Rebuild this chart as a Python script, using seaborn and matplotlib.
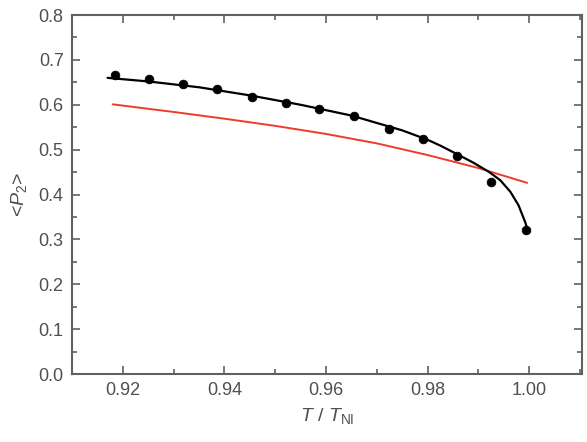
import numpy as np
import pandas as pd
import matplotlib
matplotlib.use('Agg')
import matplotlib.pyplot as plt
import seaborn as sns
from matplotlib.ticker import MultipleLocator

sns.set_style('ticks')
plt.rcParams['font.family'] = ['Liberation Sans', 'DejaVu Sans']
plt.rcParams['mathtext.fontset'] = 'custom'
plt.rcParams['mathtext.rm'] = 'Liberation Sans'
plt.rcParams['mathtext.it'] = 'Liberation Sans:italic'

# measured order parameter
t_data = [0.9184, 0.9251, 0.9319, 0.9386, 0.9454, 0.9521, 0.9587,
          0.9655, 0.9724, 0.9790, 0.9858, 0.9925, 0.9994]
p2_data = [0.667, 0.657, 0.647, 0.636, 0.618, 0.605, 0.590,
           0.575, 0.547, 0.523, 0.485, 0.427, 0.320]

# fit curve (black)
t_fit = [0.917, 0.925, 0.935, 0.945, 0.955, 0.965, 0.975, 0.980,
         0.9825, 0.9858, 0.989, 0.992, 0.9943, 0.9963, 0.9979, 0.9992, 0.9997]
p2_fit = [0.660, 0.652, 0.639, 0.621, 0.600, 0.576, 0.543, 0.522,
          0.509, 0.490, 0.471, 0.451, 0.432, 0.406, 0.376, 0.339, 0.321]

# theory curve (red)
t_th = [0.918, 0.930, 0.940, 0.950, 0.960, 0.970, 0.980, 0.990, 0.9996]
p2_th = [0.601, 0.584, 0.569, 0.553, 0.535, 0.514, 0.488, 0.459, 0.426]

fit_df = pd.DataFrame({'t': t_fit, 'p2': p2_fit})
th_df = pd.DataFrame({'t': t_th, 'p2': p2_th})
data_df = pd.DataFrame({'t': t_data, 'p2': p2_data})

fig = plt.figure(figsize=(5.87, 4.42), dpi=100)
ax = fig.add_axes([0.1227, 0.1538, 0.8688, 0.8122])

sns.lineplot(data=th_df, x='t', y='p2', ax=ax, color='#f03a2a', linewidth=1.4, sort=False)
sns.lineplot(data=fit_df, x='t', y='p2', ax=ax, color='black', linewidth=1.6, sort=False)
sns.scatterplot(data=data_df, x='t', y='p2', ax=ax, color='black', s=40, edgecolor='black', zorder=5)

ax.set_xlim(0.910, 1.0104)
ax.set_ylim(0.0, 0.8)
ax.xaxis.set_major_locator(MultipleLocator(0.02))
ax.xaxis.set_minor_locator(MultipleLocator(0.01))
ax.yaxis.set_major_locator(MultipleLocator(0.1))
ax.yaxis.set_minor_locator(MultipleLocator(0.05))
ax.set_xticks([0.92, 0.94, 0.96, 0.98, 1.00])
ax.set_xticklabels(['0.92', '0.94', '0.96', '0.98', '1.00'])
ax.set_yticks(np.arange(0, 0.81, 0.1))
ax.set_yticklabels(['%.1f' % v for v in np.arange(0, 0.81, 0.1)])

gray = '#606060'
for s in ax.spines.values():
    s.set_visible(True)
    s.set_color(gray)
    s.set_linewidth(1.5)
ax.tick_params(which='both', direction='in', top=True, right=True, color=gray,
               labelcolor='#505050', labelsize=13, width=1.2)
ax.tick_params(which='major', length=6, pad=6)
ax.tick_params(which='minor', length=3.5)

ax.set_xlabel(r'$T$ / $T_{\rm NI}$', fontsize=14, color='#505050', labelpad=5)
ax.set_ylabel(r'<$P_2$>', fontsize=14, color='#505050', labelpad=7)

fig.savefig('out.png', dpi=100)
